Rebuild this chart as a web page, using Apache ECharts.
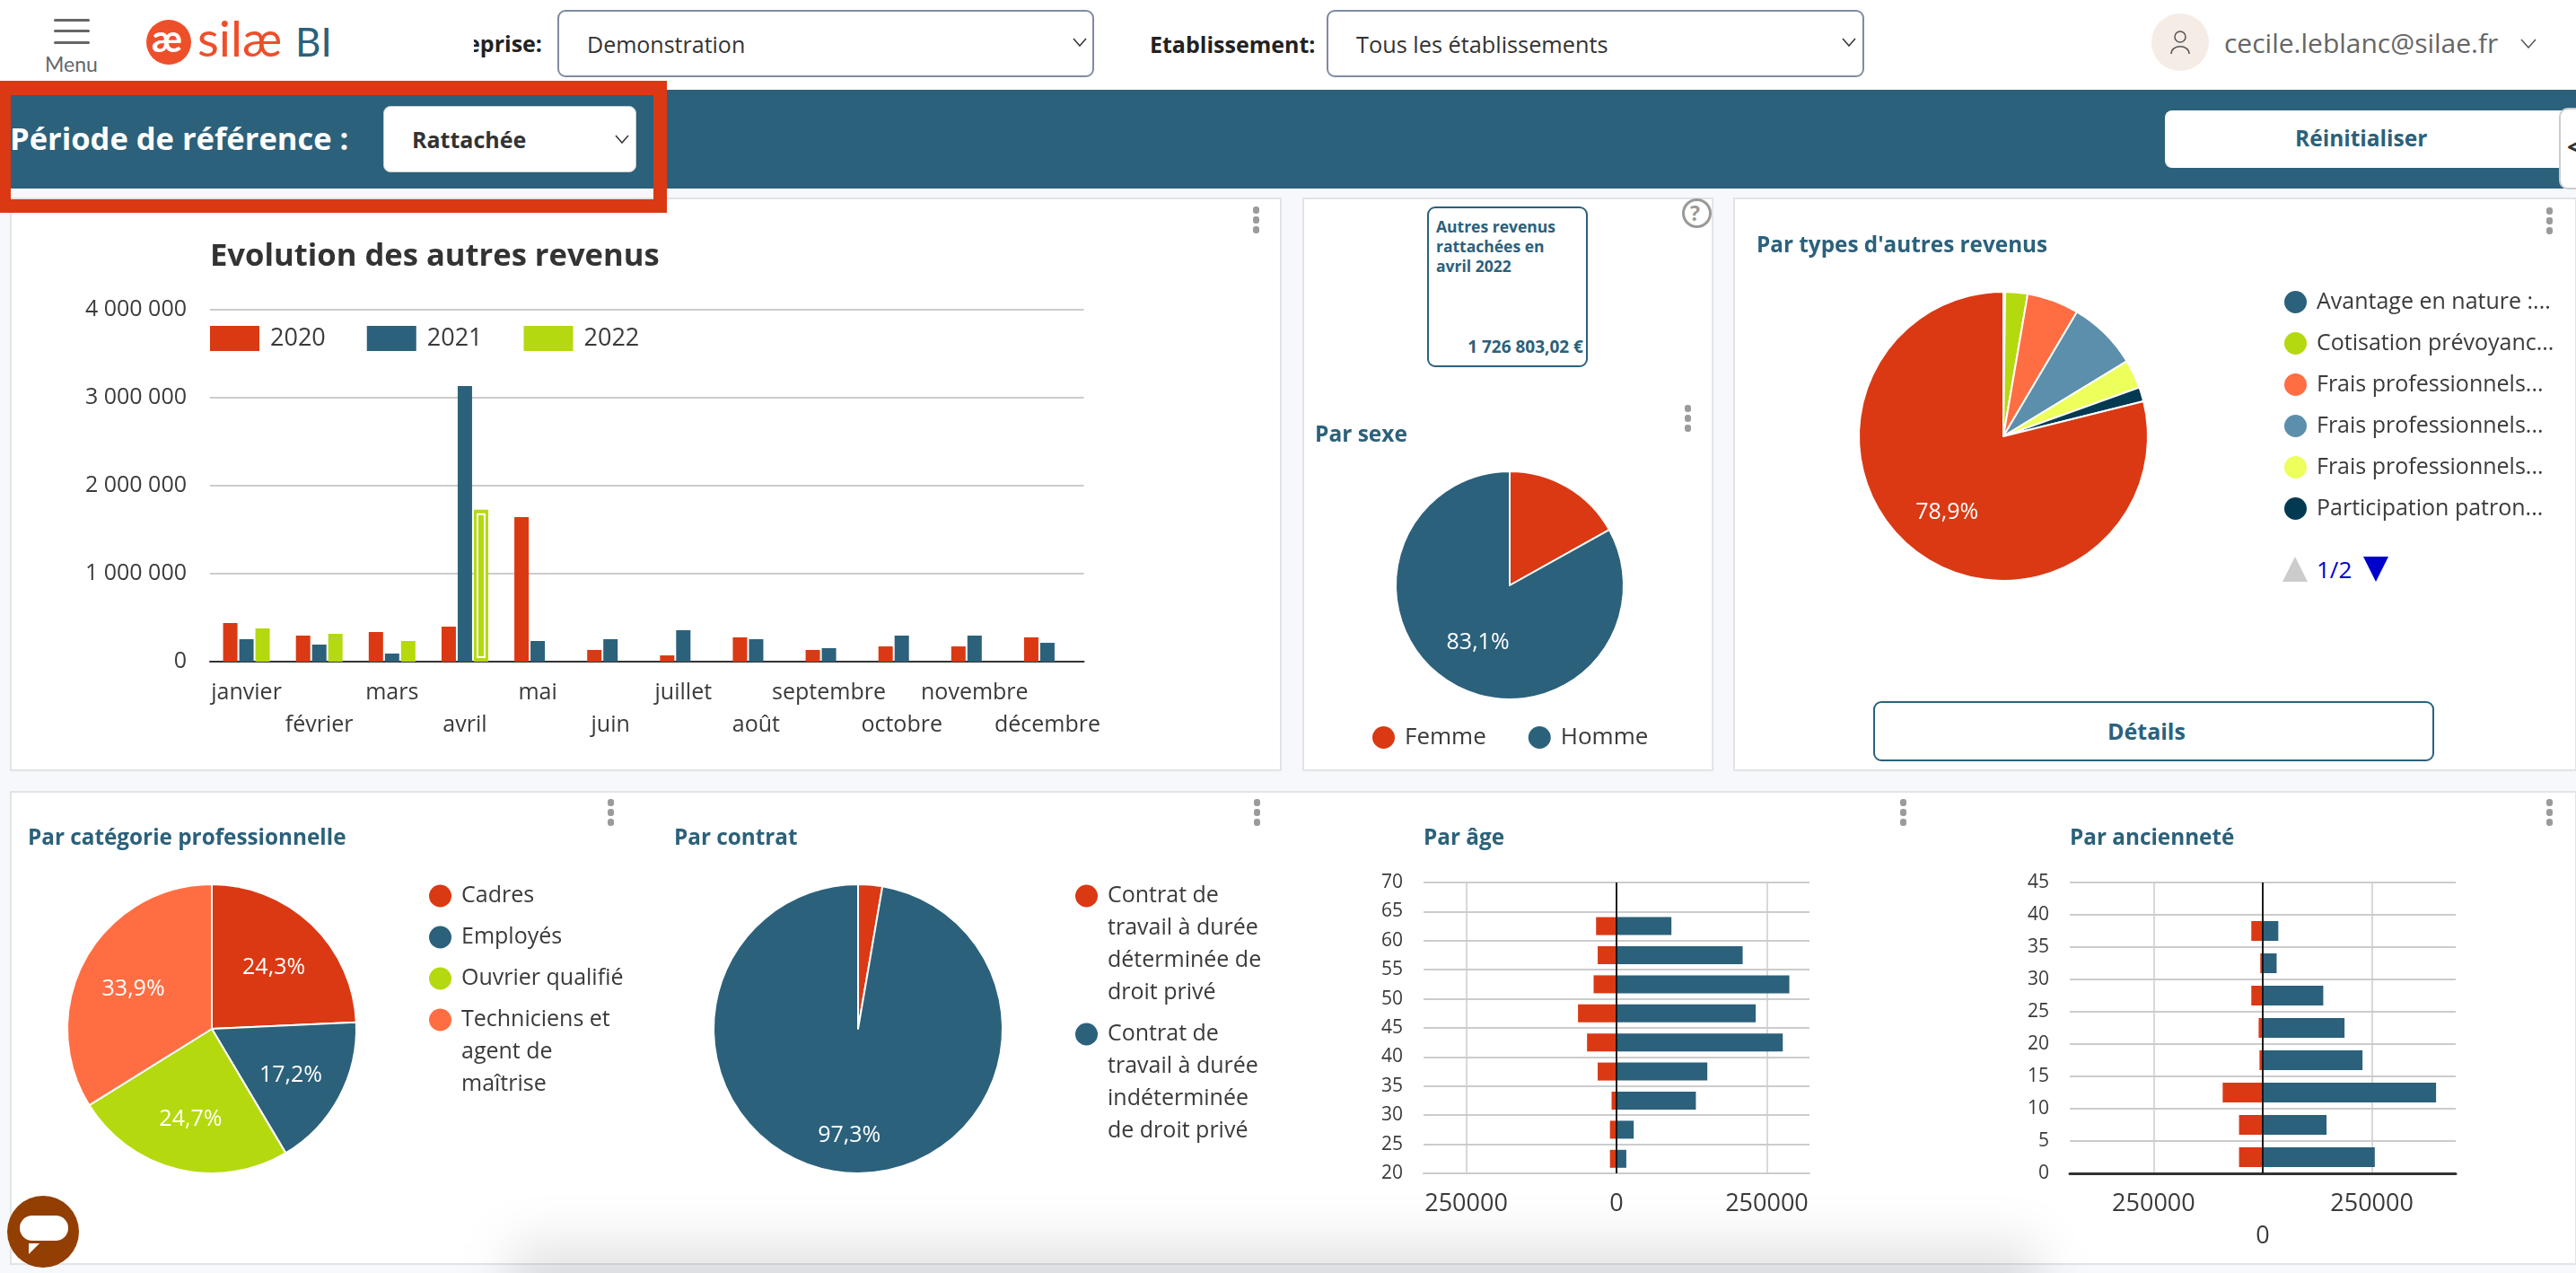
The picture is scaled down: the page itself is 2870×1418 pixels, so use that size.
<!DOCTYPE html>
<html>
<head>
<meta charset="utf-8">
<title>Silae BI - Autres revenus</title>
<script src="https://cdn.jsdelivr.net/npm/echarts@6/dist/echarts.min.js"></script>
<style type="text/css">
	html, body { margin: 0; padding: 0; }
	body {
		position: relative;
		width: 2870px;
		height: 1418px;
		overflow: hidden;
		background: #f6f8fb;
		font-family: "Open Sans", sans-serif;
		color: #333;
	}
	body div, body span.abs, body svg { position: absolute; box-sizing: border-box; }
	.card { background: #fff; border: 2px solid #e2e3e6; }
	.select { background: #fff; border: 2px solid #7f8ba0; border-radius: 9px; height: 75px; top: 11px; }
	.txt { white-space: nowrap; line-height: 1; }
	.dots { width: 8px; height: 30px; }
	.dots i { display: block; width: 7px; height: 8px; margin-bottom: 3px; border-radius: 3px; background: #9b9b9b; }
	#main { left: 0; top: 0; width: 2870px; height: 1418px; }
</style>
</head>
<body>
	<!-- bandeau du haut -->
	<div style="left:0;top:0;width:2870px;height:100px;background:#fff"></div>
	<div style="left:60px;top:21px;width:40px;height:3px;background:#666;border-radius:2px"></div>
	<div style="left:60px;top:33px;width:40px;height:3px;background:#666;border-radius:2px"></div>
	<div style="left:60px;top:46px;width:40px;height:3px;background:#666;border-radius:2px"></div>
	<div class="txt" style="left:50px;top:60px;font-family:Lato;font-size:23px;color:#666">Menu</div>
	<div style="left:163px;top:22px;width:50px;height:50px;border-radius:50%;background:#ee4f2b"></div>
	<div class="txt" style="left:169px;top:21px;font-family:Lato;font-weight:700;font-size:42px;color:#fff">æ</div>
	<div class="txt" style="left:220px;top:15px;font-family:Lato;font-size:55px;color:#ee4f2b">silæ</div>
	<div class="txt" style="left:329px;top:24px;font-family:Lato;font-size:44px;color:#2b617b">BI</div>

	<div style="left:528px;top:32px;width:76px;height:40px;overflow:hidden">
		<div class="txt" style="right:0;top:4px;font-weight:700;font-size:25px;color:#222">Entreprise:</div>
	</div>
	<div class="select" style="left:621px;width:598px"></div>
	<div class="txt" style="left:654px;top:37px;font-size:25px;color:#333">Demonstration</div>
	<svg style="left:1195px;top:42px" width="16" height="10"><polyline points="1,1 8,9 15,1" fill="none" stroke="#333" stroke-width="1.5"/></svg>

	<div class="txt" style="left:1281px;top:37px;font-weight:700;font-size:25px;color:#222">Etablissement:</div>
	<div class="select" style="left:1478px;width:599px"></div>
	<div class="txt" style="left:1511px;top:37px;font-size:25.3px;color:#333">Tous les établissements</div>
	<svg style="left:2052px;top:42px" width="16" height="10"><polyline points="1,1 8,9 15,1" fill="none" stroke="#333" stroke-width="1.5"/></svg>

	<div style="left:2397px;top:15px;width:64px;height:64px;border-radius:50%;background:#f5ece6"></div>
	<svg style="left:2416px;top:33px" width="26" height="30"><circle cx="13" cy="8" r="6" fill="none" stroke="#555" stroke-width="1.5"/><path d="M3 27 C3 16 23 16 23 27" fill="none" stroke="#555" stroke-width="1.5"/></svg>
	<div class="txt" style="left:2478px;top:33px;font-size:30px;color:#666">cecile.leblanc@silae.fr</div>
	<svg style="left:2808px;top:43px" width="18" height="11"><polyline points="1,1 9,10 17,1" fill="none" stroke="#555" stroke-width="1.5"/></svg>

	<!-- barre periode -->
	<div style="left:0;top:100px;width:2870px;height:110px;background:#2b617b"></div>
	<div class="txt" style="left:11px;top:137px;font-weight:700;font-size:34.5px;color:#fff">Période de référence :</div>
	<div style="left:427px;top:118px;width:282px;height:74px;background:#fff;border-radius:8px;border:1px solid #ccc"></div>
	<div class="txt" style="left:459px;top:143px;font-weight:700;font-size:25px;color:#333">Rattachée</div>
	<svg style="left:685px;top:150px" width="16" height="10"><polyline points="1,1 8,9 15,1" fill="none" stroke="#333" stroke-width="1.5"/></svg>
	<div style="left:2412px;top:123px;width:458px;height:64px;background:#fff;border-radius:8px"></div>
	<div class="txt" style="left:2557px;top:142px;font-weight:700;font-size:24.5px;color:#2b617b">Réinitialiser</div>
	<div style="left:2851px;top:120px;width:30px;height:91px;background:#fff;border:2px solid #ccc;border-radius:10px"></div>
	<div class="txt" style="left:2860px;top:149px;font-weight:700;font-size:28px;color:#333">&lt;</div>

	<!-- cartes -->
	<div class="card" style="left:11px;top:220px;width:1417px;height:639px"></div>
	<div class="card" style="left:1451px;top:220px;width:458px;height:639px"></div>
	<div class="card" style="left:1931px;top:220px;width:940px;height:639px"></div>
	<div class="card" style="left:11px;top:881px;width:2860px;height:528px"></div>

	<div style="left:0;top:90px;width:743px;height:147px;border-style:solid;border-color:#da3914;border-width:16px 15px 15px 12px"></div>

	<!-- KPI -->
	<div style="left:1590px;top:230px;width:179px;height:179px;border:2px solid #2b617b;border-radius:9px"></div>
	<div class="txt" style="left:1600px;top:241px;font-weight:700;font-size:17.5px;line-height:22px;color:#2b617b">Autres revenus<br>rattachées en<br>avril 2022</div>
	<div class="txt" style="right:1106px;top:377px;font-weight:700;font-size:19px;color:#2b617b">1 726 803,02 €</div>
	<div style="left:1874px;top:221px;width:33px;height:33px;border:3px solid #999;border-radius:50%"></div>
	<div class="txt" style="left:1883px;top:226px;font-weight:700;font-size:23px;color:#999">?</div>

	<div style="left:2087px;top:781px;width:625px;height:67px;border:2px solid #2b617b;border-radius:9px"></div>
	<div class="txt" style="left:2348px;top:802px;font-weight:700;font-size:25px;color:#2b617b">Détails</div>

	<div class="dots" style="left:1396px;top:230px"><i></i><i></i><i></i></div>
	<div class="dots" style="left:1877px;top:451px"><i></i><i></i><i></i></div>
	<div class="dots" style="left:2837px;top:231px"><i></i><i></i><i></i></div>
	<div class="dots" style="left:677px;top:890px"><i></i><i></i><i></i></div>
	<div class="dots" style="left:1397px;top:890px"><i></i><i></i><i></i></div>
	<div class="dots" style="left:2117px;top:890px"><i></i><i></i><i></i></div>
	<div class="dots" style="left:2837px;top:890px"><i></i><i></i><i></i></div>

	<!-- pagination de la legende des types -->
	<svg style="left:2543px;top:620px" width="28" height="28"><polygon points="14,0 28,28 0,28" fill="#cccccc"/></svg>
	<div class="txt" style="left:2581px;top:621px;font-size:26px;color:#0000cc">1/2</div>
	<svg style="left:2633px;top:620px" width="28" height="28"><polygon points="0,0 28,0 14,28" fill="#0000cc"/></svg>

	<!-- ombre en bas de page -->
	<div style="left:0;top:1300px;width:2870px;height:118px;overflow:hidden">
		<div style="left:570px;top:85px;width:1700px;height:120px;background:rgba(0,0,0,.11);filter:blur(28px)"></div>
	</div>

	<div id="main"></div>

	<div style="left:8px;top:1332px;width:80px;height:80px;border-radius:50%;background:#933e02"></div>
	<div style="left:22px;top:1354px;width:54px;height:28px;border-radius:14px;background:#fff"></div>
	<svg style="left:32px;top:1385px" width="12" height="12"><polygon points="0,0 12,0 0,12" fill="#fff"/></svg>

	<script type="text/javascript">
		var RED = '#da3914', TEAL = '#2b617b', GREEN = '#b5d90f', ORANGE = '#ff6e42',
			STEEL = '#5c8fab', YELLOW = '#ecff5a', NAVY = '#033a52';
		var FONT = '"Open Sans"', TEXT = '#3a3a3a', GRID = '#cccccc';

		// Evolution des autres revenus
		var months = ['janvier', 'février', 'mars', 'avril', 'mai', 'juin', 'juillet', 'août', 'septembre', 'octobre', 'novembre', 'décembre'];
		var revenus2020 = [439000, 296000, 337000, 398000, 1643000, 133000, 71000, 276000, 133000, 173000, 173000, 276000];
		var revenus2021 = [255000, 194000, 92000, 3133000, 235000, 255000, 357000, 255000, 153000, 296000, 296000, 214000];
		var revenus2022 = [378000, 316000, 235000, 1726803, null, null, null, null, null, null, null, null];
		var selectedBar = [3, 1726803];

		// Par sexe
		var sexNames = ['Femme', 'Homme'];
		var sexValues = [16.9, 83.1];

		// Par types d'autres revenus (etiquettes tronquees comme a l'ecran, la derniere est en page 2 de la legende)
		var typeLabels = ['Avantage en nature :...', 'Cotisation prévoyanc...', 'Frais professionnels...', 'Frais professionnels...', 'Frais professionnels...', 'Participation patron...', 'Autres'];
		var typeValues = [0.2, 2.5, 5.8, 7.8, 3.2, 1.6, 78.9];

		// Par categorie professionnelle
		var catNames = ['Cadres', 'Employés', 'Ouvrier qualifié', 'Techniciens et agent de maîtrise'];
		var catValues = [24.3, 17.2, 24.7, 33.9];

		// Par contrat
		var contractNames = ['Contrat de travail à durée déterminée de droit privé', 'Contrat de travail à durée indéterminée de droit privé'];
		var contractValues = [2.7, 97.3];

		// Par age : tranches de 20-25 a 65-70
		var ageBands = ['20', '25', '30', '35', '40', '45', '50', '55', '60', '65'];
		var ageFemmes = [-10900, -10900, -8200, -31300, -49000, -64000, -38100, -31300, -34000, 0];
		var ageHommes = [16300, 28600, 132000, 151000, 276500, 231500, 287400, 209800, 91300, 0];

		// Par anciennete : tranches de 0-5 a 40-45
		var seniorityBands = ['0', '5', '10', '15', '20', '25', '30', '35', '40'];
		var seniorityFemmes = [-54300, -54300, -91800, -7500, -9400, -26200, -5600, -26200, 0];
		var seniorityHommes = [256600, 146100, 397000, 228500, 187300, 138600, 31800, 35600, 0];

		var sideTicks = [-250000, 0, 250000];

		function titleAt(text, x, y, size, color) {
			return { text: text, left: x, top: y - size * 0.43, padding: 0,
				textStyle: { fontFamily: FONT, fontWeight: 700, fontSize: size, color: color } };
		}

		// 'inside' pose le texte a mi-rayon : on le decale vers le rayon voulu
		function pieLabelShift(values, labelR, outerR) {
			var total = values.reduce(function (a, b) { return a + b; }, 0);
			return function (params) {
				var before = 0;
				for (var i = 0; i < params.dataIndex; i++) before += values[i];
				var angle = (before + values[params.dataIndex] / 2) / total * 2 * Math.PI;
				var extra = labelR - outerR / 2;
				return { dx: extra * Math.sin(angle), dy: -extra * Math.cos(angle) + 4 };
			};
		}

		function makePie(name, names, values, colors, shown, center, radius, labelR) {
			return {
				type: 'pie', name: name, center: center, radius: radius, silent: true,
				avoidLabelOverlap: false,
				itemStyle: { borderColor: '#fff', borderWidth: 2 },
				label: { position: 'inside', color: '#fff', fontFamily: FONT, fontSize: 25,
					formatter: function (p) { return p.value.toFixed(1).replace('.', ',') + '%'; } },
				labelLine: { show: false },
				labelLayout: pieLabelShift(values, labelR, radius),
				data: names.map(function (n, i) {
					return { name: n, value: values[i], itemStyle: { color: colors[i] },
						label: { show: shown.indexOf(i) >= 0 } };
				})
			};
		}

		// une legende par entree : le rond reste sur la premiere ligne du texte
		function legendRow(name, lines, x, y) {
			var lh = 36, blanks = lines.length - 1;
			return {
				data: [name], left: x, top: y + 2 - (2 * blanks + 1) * lh / 2, padding: 0,
				orient: 'vertical', icon: 'circle', itemWidth: 27, itemHeight: 27, selectedMode: false,
				formatter: function () { return new Array(blanks + 1).join('\n') + lines.join('\n'); },
				textStyle: { fontFamily: FONT, fontSize: 25, color: TEXT, lineHeight: lh, padding: [0, 0, 0, 5] }
			};
		}

		function barStackSeries(name, values, xIdx, yIdx, color, width, stack) {
			return { type: 'bar', name: name, data: values, xAxisIndex: xIdx, yAxisIndex: yIdx,
				stack: stack, barWidth: width, silent: true, itemStyle: { color: color },
				// trait noir du zero, par-dessus les barres
				markLine: { silent: true, symbol: 'none', label: { show: false }, z: 6, animation: false,
					lineStyle: { color: '#111', width: 1.5, type: 'solid' },
					data: [{ xAxis: 0 }] } };
		}

		function sideXAxis(gridIndex, limit, lineColor, lineWidth, formatter) {
			return {
				type: 'value', gridIndex: gridIndex, min: -limit, max: limit, position: 'bottom',
				axisLine: { show: true, onZero: false, lineStyle: { color: lineColor, width: lineWidth } },
				axisTick: { show: false, customValues: sideTicks },
				splitLine: { show: true, lineStyle: { color: GRID, width: 1.5 } },
				axisLabel: { customValues: sideTicks, margin: 16, fontFamily: FONT, fontSize: 27, color: TEXT,
					lineHeight: 36, hideOverlap: false, formatter: formatter }
			};
		}

		function sideYAxes(gridIndex, min, max, bands) {
			return [{
				type: 'value', gridIndex: gridIndex, min: min, max: max, interval: 5, position: 'left',
				axisLine: { show: false }, axisTick: { show: false },
				splitLine: { show: true, lineStyle: { color: GRID, width: 2 } },
				axisLabel: { margin: 23, fontFamily: FONT, fontSize: 21, color: TEXT, padding: [5, 0, 0, 0] }
			}, {
				type: 'category', gridIndex: gridIndex, data: bands, position: 'left',
				axisLine: { show: false }, axisTick: { show: false }, axisLabel: { show: false }, splitLine: { show: false }
			}];
		}

		var typeNames = typeLabels.map(function (l, i) { return i + '|' + l; });

		var moneyAxis = {
			type: 'value', gridIndex: 0, min: 0, max: 4000000, interval: 1000000,
			axisLine: { show: false }, axisTick: { show: false },
			splitLine: { lineStyle: { color: GRID, width: 2 } },
			axisLabel: { margin: 26, fontFamily: FONT, fontSize: 25, color: TEXT, padding: [5, 0, 0, 0],
				formatter: function (v) { return String(v).replace(/\B(?=(\d{3})+$)/g, ' '); } }
		};

		var option = {
			animation: false,
			backgroundColor: 'transparent',
			title: [
				titleAt('Evolution des autres revenus', 234, 284, 34.6, '#333'),
				titleAt('Par sexe', 1465, 483, 24.5, TEAL),
				titleAt("Par types d'autres revenus", 1957, 273, 24.3, TEAL),
				titleAt('Par catégorie professionnelle', 31, 933, 24.3, TEAL),
				titleAt('Par contrat', 751, 933, 24.3, TEAL),
				titleAt('Par âge', 1586, 933, 24.3, TEAL),
				titleAt('Par ancienneté', 2306, 933, 24.3, TEAL)
			],
			legend: [
				{ data: ['2020', '2021', '2022'], left: 234, top: 363, padding: 0, icon: 'rect',
					itemWidth: 55, itemHeight: 28, itemGap: 46, selectedMode: false,
					textStyle: { fontFamily: FONT, fontSize: 27, color: TEXT, padding: [0, 0, 0, 7] } },
				{ data: sexNames, left: 1527, top: 807, padding: 0, icon: 'circle',
					itemWidth: 27, itemHeight: 27, itemGap: 45, selectedMode: false,
					textStyle: { fontFamily: FONT, fontSize: 26, color: TEXT, padding: [0, 0, 0, 5] } },
				{ orient: 'vertical', data: typeNames.slice(0, 6), left: 2543, top: 322, padding: 0,
					icon: 'circle', itemWidth: 27, itemHeight: 27, itemGap: 17, selectedMode: false,
					formatter: function (n) { return n.split('|')[1]; },
					textStyle: { fontFamily: FONT, fontSize: 25, color: TEXT, lineHeight: 27, padding: [0, 0, 0, 5] } },
				legendRow(catNames[0], ['Cadres'], 476, 996),
				legendRow(catNames[1], ['Employés'], 476, 1042),
				legendRow(catNames[2], ['Ouvrier qualifié'], 476, 1088),
				legendRow(catNames[3], ['Techniciens et', 'agent de', 'maîtrise'], 476, 1134),
				legendRow(contractNames[0], ['Contrat de', 'travail à durée', 'déterminée de', 'droit privé'], 1196, 996),
				legendRow(contractNames[1], ['Contrat de', 'travail à durée', 'indéterminée', 'de droit privé'], 1196, 1150)
			],
			grid: [
				{ left: 234, top: 345, width: 973.5, height: 392 },
				{ left: 1586, top: 983, width: 430, height: 324 },
				{ left: 2306, top: 983, width: 430, height: 324 }
			],
			xAxis: [
				{ type: 'category', gridIndex: 0, data: months,
					axisLine: { onZero: true, lineStyle: { color: '#333', width: 2 } }, axisTick: { show: false },
					axisLabel: { interval: 0, margin: 17, lineHeight: 36, fontFamily: FONT, fontSize: 25, color: TEXT,
						hideOverlap: false,
						formatter: function (v, i) { return i % 2 ? '\n' + v : v; } } },
				sideXAxis(1, 320900, GRID, 2, function (v) { return String(Math.abs(v)); }),
				sideXAxis(2, 442000, '#333', 3, function (v) { return v === 0 ? '\n0' : String(Math.abs(v)); })
			],
			yAxis: [moneyAxis]
				.concat(sideYAxes(1, 20, 70, ageBands))
				.concat(sideYAxes(2, 0, 45, seniorityBands)),
			series: [
				{ type: 'bar', name: '2020', data: revenus2020, barWidth: 16, barGap: '12.5%', silent: true, itemStyle: { color: RED } },
				{ type: 'bar', name: '2021', data: revenus2021, barWidth: 16, barGap: '12.5%', silent: true, itemStyle: { color: TEAL } },
				{ type: 'bar', name: '2022', data: revenus2022, barWidth: 16, barGap: '12.5%', silent: true, itemStyle: { color: GREEN } },
				// contour blanc de la barre selectionnee (avril 2022)
				{ type: 'custom', name: 'selection', silent: true, data: [selectedBar], z: 3,
					encode: { x: 0, y: 1 },
					renderItem: function (params, api) {
						var top = api.coord([api.value(0), api.value(1)]);
						var base = api.coord([api.value(0), 0]);
						return { type: 'rect',
							shape: { x: top[0] + 18 - 4, y: top[1] + 5, width: 8, height: base[1] - top[1] - 10 },
							style: { fill: 'none', stroke: '#fff', lineWidth: 2 } };
					} },
				makePie('Par sexe', sexNames, sexValues, [RED, TEAL], [1], [1682, 652], 127, 67),
				makePie('Par types', typeNames, typeValues, [TEAL, GREEN, ORANGE, STEEL, YELLOW, NAVY, RED], [6], [2232, 486], 161, 99),
				makePie('Par catégorie', catNames, catValues, [RED, TEAL, GREEN, ORANGE], [0, 1, 2, 3], [236, 1146], 161, 97),
				makePie('Par contrat', contractNames, contractValues, [RED, TEAL], [1], [956, 1146], 161, 112),
				barStackSeries('Âge femmes', ageFemmes, 1, 2, RED, 20, 'age'),
				barStackSeries('Âge hommes', ageHommes, 1, 2, TEAL, 20, 'age'),
				barStackSeries('Ancienneté femmes', seniorityFemmes, 2, 4, RED, 22, 'anc'),
				barStackSeries('Ancienneté hommes', seniorityHommes, 2, 4, TEAL, 22, 'anc')
			]
		};

		var myChart = echarts.init(document.getElementById('main'));
		myChart.setOption(option);
	</script>
</body>
</html>
